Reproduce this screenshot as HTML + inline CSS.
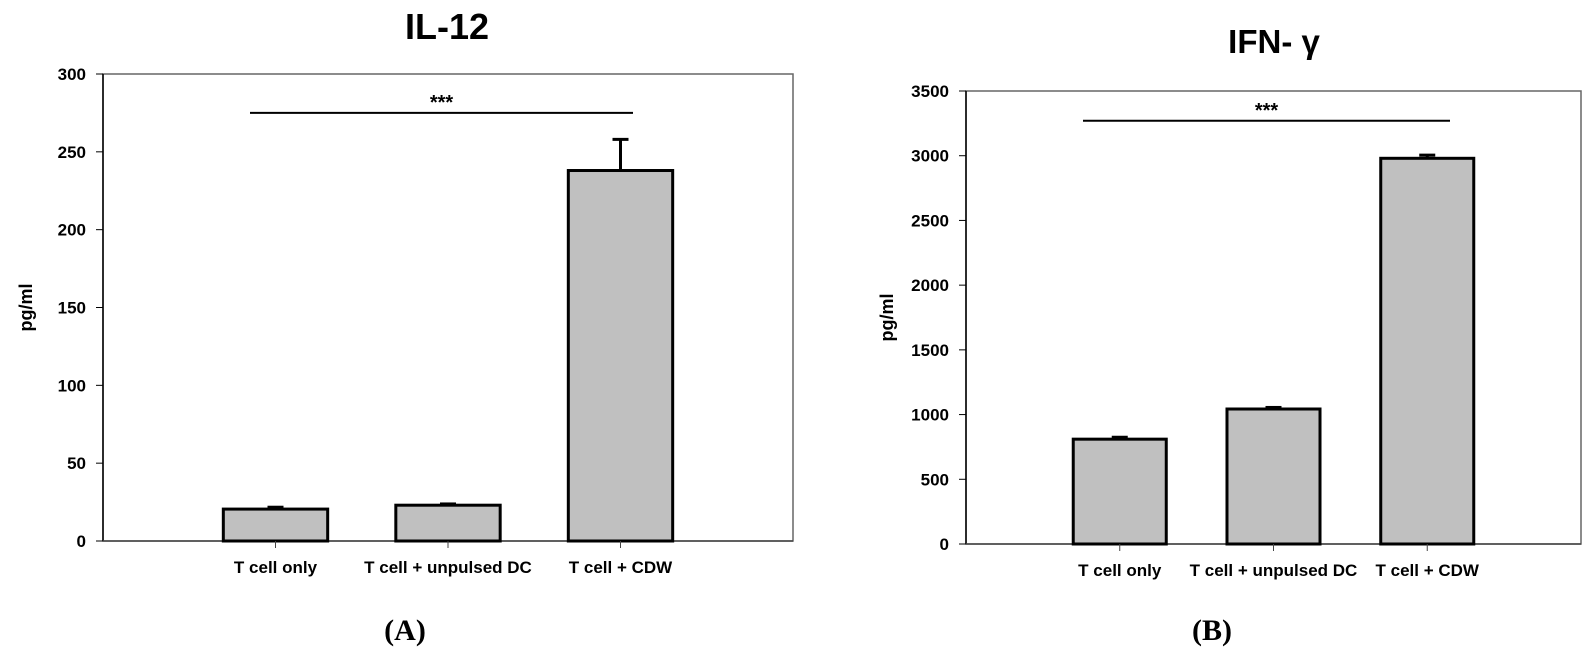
<!DOCTYPE html>
<html><head><meta charset="utf-8"><style>
html,body{margin:0;padding:0;background:#fff;}
svg{display:block;font-family:"Liberation Sans",Arial,sans-serif;}
</style></head><body>
<svg id="svg" width="1591" height="653" viewBox="0 0 1591 653" xmlns="http://www.w3.org/2000/svg"></svg>
<script>
const categories = ["T cell only", "T cell + unpulsed DC", "T cell + CDW"];
const il12Values = [20.5, 23, 238];
const il12Errors = [1.2, 0.8, 20];
const il12Ticks = [0, 50, 100, 150, 200, 250, 300];
const ifnValues = [810, 1043, 2980];
const ifnErrors = [15, 12, 25];
const ifnTicks = [0, 500, 1000, 1500, 2000, 2500, 3000, 3500];
const il12Sig = 275;
const ifnSig = 3270;

const NS = "http://www.w3.org/2000/svg";
const svg = document.getElementById('svg');
function mk(tag, attrs, parent, text) {
  const e = document.createElementNS(NS, tag);
  for (const k in attrs) e.setAttribute(k, attrs[k]);
  if (text !== undefined) e.textContent = text;
  (parent || svg).appendChild(e);
  return e;
}

function drawChart(cfg) {
  const g = mk('g', {});
  
  
  const {x0, x1, y0, y1, max} = cfg;
  const yS = v => y0 - (v / max) * (y0 - y1);
  const slot = (x1 - x0) / (categories.length + 1);
  const xS = i => x0 + slot * (i + 1);
  const bw = slot * 0.605;

  const t = mk('text', {x: cfg.titleX, y: cfg.titleY, 'font-size': cfg.titleSize, 'font-weight': 'bold', 'text-anchor': 'middle', fill: '#000'}, g, cfg.title);
  
  

  const frame = mk('rect', {x: x0, y: y1, width: x1 - x0, height: y0 - y1, fill: 'none', stroke: '#666', 'stroke-width': 1.5}, g);
  
  
  const ax = mk('line', {x1: x0, y1: y1, x2: x0, y2: y0, stroke: '#000', 'stroke-width': 1.5}, g);
  
  
  const bx = mk('line', {x1: x0, y1: y0, x2: x1, y2: y0, stroke: '#444', 'stroke-width': 1.5}, g);
  
  

  cfg.ticks.forEach(v => {
    const y = yS(v);
    const tk = mk('line', {x1: x0 - 7, y1: y, x2: x0, y2: y, stroke: '#000', 'stroke-width': 1}, g);
    
    
    const tl = mk('text', {x: x0 - 17, y: y + 6, 'font-size': 17, 'font-weight': 'bold', 'text-anchor': 'end'}, g, String(v));
    
    
  });
  const yl = mk('text', {x: 0, y: 0, 'font-size': 18, 'font-weight': 'bold', 'text-anchor': 'middle', transform: `translate(${cfg.ylabelX},${(y0 + y1) / 2}) rotate(-90)`}, g, 'pg/ml');
  
  

  categories.forEach((c, i) => {
    const cx = xS(i);
    const top = yS(cfg.values[i]);
    const eTop = yS(cfg.values[i] + cfg.errors[i]);
    const el = mk('line', {x1: cx, y1: top, x2: cx, y2: eTop, stroke: '#000', 'stroke-width': 3}, g);
    
    
    const cap = mk('line', {x1: cx - 8, y1: eTop, x2: cx + 8, y2: eTop, stroke: '#000', 'stroke-width': 3}, g);
    
    
    const b = mk('rect', {x: cx - bw / 2, y: top, width: bw, height: y0 - top, fill: '#c0c0c0', stroke: '#000', 'stroke-width': 3}, g);
    
    
    const tk = mk('line', {x1: cx, y1: y0, x2: cx, y2: y0 + 7, stroke: '#444', 'stroke-width': 1}, g);
    
    
    const xl = mk('text', {x: cx, y: y0 + 32, 'font-size': 17, 'font-weight': 'bold', 'text-anchor': 'middle'}, g, c);
    
    
  });

  const sy = yS(cfg.sig);
  const sl = mk('line', {x1: cfg.sigX1, y1: sy, x2: cfg.sigX2, y2: sy, stroke: '#000', 'stroke-width': 2}, g);
  
  
  const st = mk('text', {x: (cfg.sigX1 + cfg.sigX2) / 2, y: sy - 4, 'font-size': 20, 'font-weight': 'bold', 'text-anchor': 'middle'}, g, '***');
  
  

  const pl = mk('text', {x: cfg.panelX, y: 640, 'font-size': 30, 'font-weight': 'bold', 'text-anchor': 'middle', 'font-family': '"Liberation Serif", serif'}, g, cfg.panel);
  
  
}

drawChart({name: 'il12-chart', title: 'IL-12', titleX: 447, titleY: 39, titleSize: 36,
  x0: 103, x1: 793, y0: 541, y1: 74, max: 300, ticks: il12Ticks, values: il12Values, errors: il12Errors,
  ylabelX: 32, sig: il12Sig, sigX1: 250, sigX2: 633, panel: '(A)', panelX: 405});
drawChart({name: 'ifn-gamma-chart', title: 'IFN- γ', titleX: 1274, titleY: 53, titleSize: 33,
  x0: 966, x1: 1581, y0: 544, y1: 91, max: 3500, ticks: ifnTicks, values: ifnValues, errors: ifnErrors,
  ylabelX: 893, sig: ifnSig, sigX1: 1083, sigX2: 1450, panel: '(B)', panelX: 1212});
</script>
</body></html>
